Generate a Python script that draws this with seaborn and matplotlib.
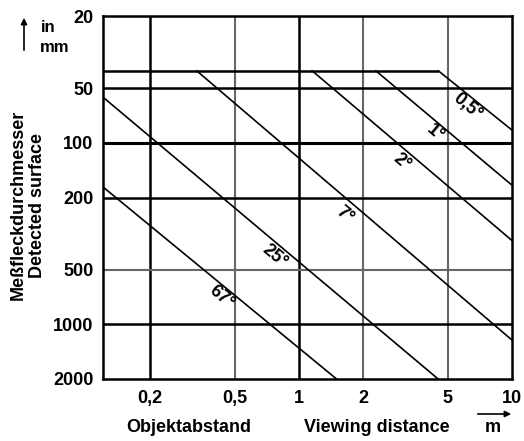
import numpy as np
import pandas as pd
import matplotlib
matplotlib.use("Agg")
import matplotlib.pyplot as plt
import seaborn as sns

# data
angle_labels = ["0,5°", "1°", "2°", "7°", "25°", "67°"]
start_dist = [4.5, 2.29, 1.15, 0.33, 0.12, 0.12]     # m
start_diam = [40, 40, 40, 40, 56, 175]               # mm
end_dist = [10, 10, 10, 10, 4.5, 1.5]
end_diam = [85, 171, 345, 1220, 2000, 2000]
label_dist = [6.15, 4.35, 3.04, 1.64, 0.77, 0.435]
label_diam = [63, 88, 127, 250, 420, 707]

min_spot_dist = [0.12, 4.5]
min_spot_diam = [40, 40]

x_ticks = [0.2, 0.5, 1, 2, 5, 10]
x_tick_labels = ["0,2", "0,5", "1", "2", "5", "10"]
y_ticks = [20, 50, 100, 200, 500, 1000, 2000]
y_tick_labels = ["20", "50", "100", "200", "500", "1000", "2000"]

sns.set_style("white")
plt.rcParams['font.family'] = ['Liberation Sans', 'DejaVu Sans']
plt.rcParams['font.weight'] = 'bold'
plt.rcParams['text.color'] = 'black'
plt.rcParams['xtick.color'] = 'black'
plt.rcParams['ytick.color'] = 'black'

FS = 13

rows = []
for lab, x0, y0, x1, y1 in zip(angle_labels, start_dist, start_diam, end_dist, end_diam):
    rows.append({"line": lab, "dist": x0, "diam": y0})
    rows.append({"line": lab, "dist": x1, "diam": y1})
for x, y in zip(min_spot_dist, min_spot_diam):
    rows.append({"line": "min", "dist": x, "diam": y})
df = pd.DataFrame(rows)

fig = plt.figure(figsize=(5.24, 4.41), dpi=100)
ax = fig.add_axes([0.1966, 0.1406, 0.7804, 0.8231])

# grid lines (1-2-5 pattern, some drawn lighter)
for xv, col, lw in [(0.2, "black", 1.8), (0.5, "#666666", 1.5), (1, "black", 1.8),
                    (2, "#666666", 1.5), (5, "#666666", 1.5)]:
    ax.axvline(xv, color=col, lw=lw, zorder=1)
for yv, col, lw in [(50, "black", 1.8), (100, "black", 2.2), (200, "black", 1.8),
                    (500, "#666666", 1.5), (1000, "black", 1.8)]:
    ax.axhline(yv, color=col, lw=lw, zorder=1)

sns.lineplot(data=df, x="dist", y="diam", units="line", estimator=None,
             sort=False, color="black", lw=1.2, ax=ax, legend=False, zorder=3)
ax.lines[-1].set_linewidth(1.8)

ax.set_xscale("log")
ax.set_yscale("log")
ax.set_xlim(0.12, 10)
ax.set_ylim(2000, 20)

# angle labels
for lab, x, y in zip(angle_labels, label_dist, label_diam):
    ax.text(x, y, lab, rotation=-40, ha="center", va="center",
            fontsize=FS, fontweight="bold", color="black", zorder=4)

ax.set_xticks(x_ticks)
ax.set_xticklabels(x_tick_labels)
ax.set_yticks(y_ticks)
ax.set_yticklabels(y_tick_labels)
ax.minorticks_off()
ax.tick_params(axis="both", length=0, labelsize=FS, labelcolor="black")
ax.tick_params(axis="x", pad=8)
ax.tick_params(axis="y", pad=7)
for lbl in ax.get_xticklabels() + ax.get_yticklabels():
    lbl.set_fontweight("bold")
ax.set_xlabel("")
ax.set_ylabel("")

for sp in ax.spines.values():
    sp.set_color("black")
    sp.set_linewidth(1.8)

# axis titles and arrows
fig.text(189 / 524, 1 - 428 / 441, "Objektabstand", ha="center", va="center",
         fontsize=FS, fontweight="bold")
fig.text(377 / 524, 1 - 428 / 441, "Viewing distance", ha="center", va="center",
         fontsize=FS, fontweight="bold")
fig.text(493 / 524, 1 - 428 / 441, "m", ha="center", va="center",
         fontsize=FS, fontweight="bold")
fig.text(18 / 524, 1 - 205 / 441, "Meßfleckdurchmesser", ha="center", va="center",
         rotation=90, fontsize=FS, fontweight="bold")
fig.text(37 / 524, 1 - 205 / 441, "Detected surface", ha="center", va="center",
         rotation=90, fontsize=FS, fontweight="bold")
fig.text(48 / 524, 1 - 28 / 441, "in", ha="center", va="center",
         fontsize=12, fontweight="bold")
fig.text(55 / 524, 1 - 47 / 441, "mm", ha="center", va="center",
         fontsize=12, fontweight="bold")

fig.add_artist(matplotlib.patches.FancyArrowPatch(
    (24 / 524, 1 - 53 / 441), (24 / 524, 1 - 15 / 441), transform=fig.transFigure,
    arrowstyle="-|>", mutation_scale=9, color="black", lw=1.2))
fig.add_artist(matplotlib.patches.FancyArrowPatch(
    (475 / 524, 1 - 414 / 441), (514 / 524, 1 - 414 / 441), transform=fig.transFigure,
    arrowstyle="-|>", mutation_scale=9, color="black", lw=1.2))

fig.savefig("out.png", dpi=100)
